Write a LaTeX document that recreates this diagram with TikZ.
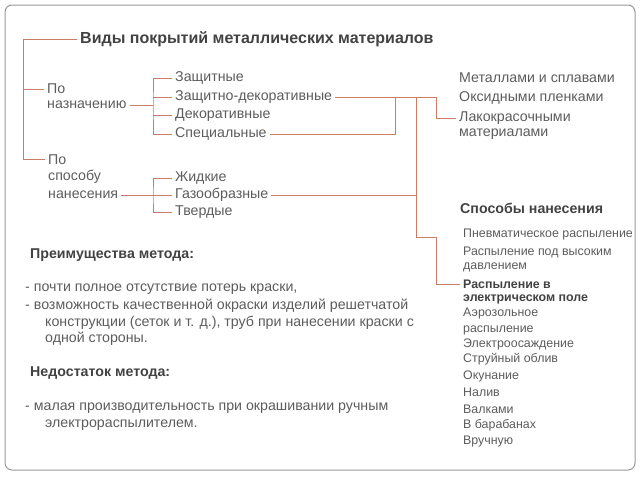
\documentclass[tikz,border=0pt]{standalone}
\usepackage{fontspec}
\setmainfont{Liberation Sans}
\usetikzlibrary{positioning}
\definecolor{linecol}{RGB}{201,124,102}
\definecolor{txtcol}{RGB}{92,92,92}
\definecolor{hdrcol}{RGB}{66,66,66}

\begin{document}
\begin{tikzpicture}[x=1pt,y=-1pt,
  txt/.style={anchor=west,inner xsep=3pt,inner ysep=1pt,text=txtcol,font=\fontsize{14.2}{16}\selectfont},
  lst/.style={anchor=west,inner xsep=3pt,inner ysep=1pt,text=txtcol,font=\fontsize{12.4}{14}\selectfont},
  hdr/.style={anchor=west,inner xsep=3pt,inner ysep=1pt,text=hdrcol,font=\bfseries\fontsize{14.2}{16}\selectfont},
  conn/.style={draw=linecol,line width=0.9pt}]
  \useasboundingbox (0,0) rectangle (640,480);
  \draw[gray!80,line width=1pt,rounded corners=7pt] (5,5) rectangle (635,470);

  % title and left tree
  \node[hdr,font=\bfseries\fontsize{16}{18}\selectfont] at (77,39) (title){Виды покрытий металлических материалов};
  \node[txt] at (44,89) (po1){По};
  \node[txt] at (44,105) (nazn){назначению};
  \node[txt] at (45,160) (po2){По};
  \node[txt] at (45,177) (spos){способу};
  \node[txt] at (45,195) (nanes){нанесения};

  \coordinate (t1) at (23,39);
  \coordinate (t2) at (23,159);
  \draw[conn] (title.west) -- (t1) -- (t2) -- (t2 -| po2.west);
  \draw[conn] (t1 |- po1) -- (po1.west);

  % by purpose
  \node[txt] at (172,78) (zasch){Защитные};
  \node[txt] at (172,97) (zdek){Защитно-декоративные};
  \node[txt] at (172,115) (dek){Декоративные};
  \node[txt] at (172,134) (spec){Специальные};

  \coordinate (b1) at (153,105);
  \draw[conn] (nazn.east) -- (b1);
  \draw[conn] (zasch.west) -| (b1) |- (spec.west);
  \draw[conn] (b1 |- zdek) -- (zdek.west);
  \draw[conn] (b1 |- dek) -- (dek.west);

  % by method
  \node[txt] at (172,178) (zhid){Жидкие};
  \node[txt] at (172,195) (gaz){Газообразные};
  \node[txt] at (172,212) (tverd){Твердые};

  \coordinate (b2) at (153,195);
  \draw[conn] (nanes.east) -- (b2);
  \draw[conn] (zhid.west) -| (b2) |- (tverd.west);
  \draw[conn] (b2) -- (gaz.west);

  % coatings
  \node[txt] at (456,78) (metal){Металлами и сплавами};
  \node[txt] at (456,98) (oks){Оксидными пленками};
  \node[txt] at (456,118) (lak){Лакокрасочными};
  \node[txt] at (456,134) (lak2){материалами};

  % methods list
  \node[hdr] at (457,208) (sposob){Способы нанесения};
  \node[lst] at (460,235) (pnev){Пневматическое распыление};
  \node[lst] at (460,252) (rasp1){Распыление под высоким};
  \node[lst] at (460,267) (rasp2){давлением};
  \node[lst,font=\bfseries\fontsize{12.4}{14}\selectfont,text=hdrcol] at (460,284) (rasp3){Распыление в};
  \node[lst,font=\bfseries\fontsize{12.4}{14}\selectfont,text=hdrcol] at (460,299) (rasp4){электрическом поле};
  \node[lst] at (460,314) (aero1){Аэрозольное};
  \node[lst] at (460,330) (aero2){распыление};
  \node[lst] at (460,344) (elek){Электроосаждение};
  \node[lst] at (460,359) (struy){Струйный облив};
  \node[lst] at (460,376) (okun){Окунание};
  \node[lst] at (460,392) (naliv){Налив};
  \node[lst] at (460,409) (valk){Валками};
  \node[lst] at (460,425) (barab){В барабанах};
  \node[lst] at (460,442) (vruch){Вручную};

  \coordinate (j1) at (395,97);
  \coordinate (j2) at (416,97);
  \coordinate (j3) at (436,97);
  \coordinate (j4) at (416,237);
  \coordinate (j5) at (436,237);
  \draw[conn] (zdek.east) -- (j3) |- (lak.west);
  \draw[conn] (spec.east) -| (j1);
  \draw[conn] (gaz.east) -- (gaz.east -| j2);
  \draw[conn] (j2) -- (j4) -- (j5) |- (rasp3.west);

  % advantages / drawback
  \node[hdr] at (27,255) (preim){Преимущества метода:};
  \node[txt] at (22,289) (pl1){- почти полное отсутствие потерь краски,};
  \node[txt] at (22,306) (pl2){- возможность качественной окраски изделий решетчатой};
  \node[txt] at (42,323) (pl3){конструкции (сеток и т. д.), труб при нанесении краски с};
  \node[txt] at (42,339) (pl4){одной стороны.};
  \node[hdr] at (27,373) (nedost){Недостаток метода:};
  \node[txt] at (22,408) (mi1){- малая производительность при окрашивании ручным};
  \node[txt] at (42,425) (mi2){электрораспылителем.};
\end{tikzpicture}
\end{document}
